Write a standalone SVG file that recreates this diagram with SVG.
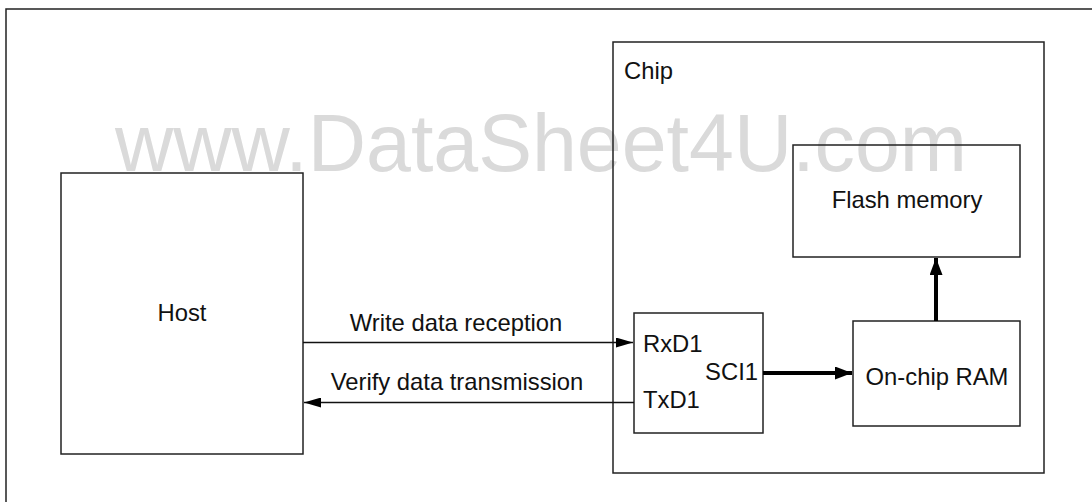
<svg xmlns="http://www.w3.org/2000/svg" width="1092" height="502" viewBox="0 0 1092 502">
<style>
.box{fill:none;stroke:#222;stroke-width:1.5}
.t{font-family:"Liberation Sans",Arial,sans-serif;font-size:23.8px;fill:#111}
.thin{stroke:#111;stroke-width:1.5;fill:none}
.thick{stroke:#000;stroke-width:4;fill:none}
</style>
<defs>
<marker id="ah" markerWidth="17" markerHeight="10" refX="17" refY="5" orient="auto" markerUnits="userSpaceOnUse"><path d="M0,0 L17,5 L0,10 Z" fill="#000"/></marker>
<marker id="ahb" markerWidth="17" markerHeight="13" refX="17" refY="6.5" orient="auto" markerUnits="userSpaceOnUse"><path d="M0,0 L17,6.5 L0,13 Z" fill="#000"/></marker>
</defs>
<rect width="1092" height="502" fill="#fff"/>
<path d="M6,502 V9 H1092" fill="none" stroke="#222" stroke-width="1.5"/>
<text x="115" y="171" font-family="Liberation Sans,Arial,sans-serif" font-size="82" fill="#dadada" textLength="852" lengthAdjust="spacingAndGlyphs">www.DataSheet4U.com</text>
<g id="chip"><rect class="box" x="613" y="42" width="431" height="431"/><text class="t" x="624" y="79">Chip</text></g>
<g id="host"><rect class="box" x="61" y="173" width="242" height="281"/><text class="t" x="182" y="321" text-anchor="middle">Host</text></g>
<g id="flash"><rect class="box" x="793" y="145" width="227" height="112"/><text class="t" x="907" y="208" text-anchor="middle">Flash memory</text></g>
<g id="ram"><rect class="box" x="853" y="321" width="167" height="105"/><text class="t" x="937" y="385" text-anchor="middle">On-chip RAM</text></g>
<g id="sci1"><rect class="box" x="634" y="313" width="129" height="120"/><text class="t" x="643" y="352">RxD1</text><text class="t" x="758" y="380" text-anchor="end">SCI1</text><text class="t" x="643" y="408">TxD1</text></g>
<g id="connectors">
<line class="thin" x1="303" y1="342.5" x2="633" y2="342.5" marker-end="url(#ah)"/>
<text class="t" x="456" y="331" text-anchor="middle">Write data reception</text>
<line class="thin" x1="634" y1="402.5" x2="304" y2="402.5" marker-end="url(#ah)" stroke="#333"/>
<text class="t" x="457" y="390" text-anchor="middle">Verify data transmission</text>
<line class="thick" x1="763" y1="373" x2="852" y2="373" marker-end="url(#ahb)"/>
<line class="thick" x1="936" y1="321" x2="936" y2="258" marker-end="url(#ahb)"/>
</g>
</svg>
